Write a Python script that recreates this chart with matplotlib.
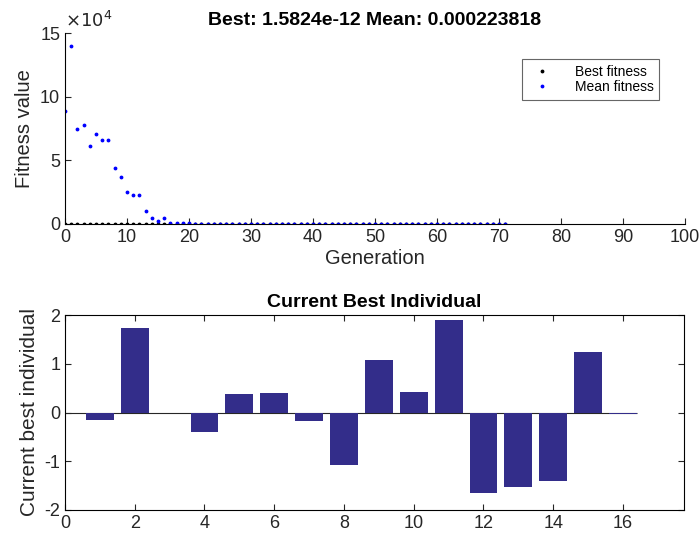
import matplotlib.pyplot as plt
from matplotlib.ticker import FuncFormatter

plt.rcParams['font.family'] = ['Liberation Sans', 'DejaVu Sans']
plt.rcParams['axes.unicode_minus'] = False

# fitness per generation (0..71)
generations = list(range(72))
best_fitness = [0.0, 0.0, 0.0, 0.0, 0.0, 0.0, 0.0, 0.0, 0.0, 0.0,
                0.0, 0.0, 0.0, 0.0, 0.0, 0.0, 0.0, 0.0, 0.0, 0.0,
                0.0, 0.0, 0.0, 0.0, 0.0, 0.0, 0.0, 0.0, 0.0, 0.0,
                0.0, 0.0, 0.0, 0.0, 0.0, 0.0, 0.0, 0.0, 0.0, 0.0,
                0.0, 0.0, 0.0, 0.0, 0.0, 0.0, 0.0, 0.0, 0.0, 0.0,
                0.0, 0.0, 0.0, 0.0, 0.0, 0.0, 0.0, 0.0, 0.0, 0.0,
                0.0, 0.0, 0.0, 0.0, 0.0, 0.0, 0.0, 0.0, 0.0, 0.0,
                0.0, 0.0]
mean_fitness = [89000, 140000, 75000, 78000, 61000, 71000, 66000, 66000, 44000, 37000,
                25000, 23000, 23000, 10000, 4500, 2500, 5000, 1000, 800, 500,
                500, 200, 100, 100, 50, 50, 20, 20, 10, 10,
                5, 5, 2, 2, 1, 1, 1, 0.5, 0.5, 0.2,
                0.2, 0.1, 0.1, 0.05, 0.05, 0.02, 0.02, 0.01, 0.01, 0.01,
                0.005, 0.005, 0.002, 0.002, 0.001, 0.001, 0.001, 0.001, 0.001, 0.001,
                0.001, 0.001, 0.001, 0.001, 0.001, 0.001, 0.001, 0.001, 0.001, 0.001,
                0.0005, 0.000223818]

# current best individual
genes = list(range(1, 17))
gene_values = [-0.15, 1.73, 0.0, -0.39, 0.38, 0.40, -0.17, -1.08,
               1.07, 0.43, 1.90, -1.65, -1.53, -1.41, 1.24, -0.04]

txt = '#262626'
fig = plt.figure(figsize=(6.99, 5.42), dpi=100)

# top: fitness
ax1 = fig.add_axes([65/699, 1-224/542, 620/699, 191/542])
ax1.plot(generations, best_fitness, '.', color='black', markersize=3.5, label='Best fitness')
ax1.plot(generations, mean_fitness, '.', color='blue', markersize=3.5, label='Mean fitness')
ax1.set_xlim(0, 100)
ax1.set_ylim(0, 150000)
ax1.set_xticks(range(0, 101, 10))
ax1.set_yticks([0, 50000, 100000, 150000])
ax1.yaxis.set_major_formatter(FuncFormatter(lambda v, p: '%g' % (v / 1e4)))
ax1.text(0.0, 1.01, r'$\times10^4$', transform=ax1.transAxes, fontsize=13,
         color=txt, ha='left', va='bottom')
ax1.spines['top'].set_visible(False)
ax1.spines['right'].set_visible(False)
ax1.tick_params(direction='in', labelsize=13, length=4, colors=txt, labelcolor=txt)
ax1.set_xlabel('Generation', fontsize=14.5, color=txt, labelpad=2)
ax1.set_ylabel('Fitness value', fontsize=14.5, color=txt, labelpad=4)
ax1.set_title('Best: 1.5824e-12 Mean: 0.000223818', fontsize=14, fontweight='bold', pad=6)
leg = ax1.legend(loc='upper right', bbox_to_anchor=(0.97, 0.9), fontsize=10, frameon=True,
                 fancybox=False, edgecolor='#404040', handletextpad=1.4, borderpad=0.4,
                 labelspacing=0.1, markerscale=1.0)
leg.get_frame().set_linewidth(0.8)

# bottom: current best individual
ax2 = fig.add_axes([65/699, 1-510/542, 619/699, 195/542])
ax2.bar(genes, gene_values, width=0.8, color='#332d8a', zorder=2)
ax2.hlines(0, 0, 16.4, color=txt, linewidth=0.8, zorder=1)
ax2.set_xlim(0, 17.75)
ax2.set_ylim(-2, 2)
ax2.set_xticks(range(0, 17, 2))
ax2.set_yticks([-2, -1, 0, 1, 2])
ax2.tick_params(direction='in', labelsize=13, length=4, top=True, right=True,
                colors=txt, labelcolor=txt)
ax2.set_ylabel('Current best individual', fontsize=15, color=txt, labelpad=4)
ax2.set_title('Current Best Individual', fontsize=14, fontweight='bold', pad=6)

fig.savefig('out.png', dpi=100)
